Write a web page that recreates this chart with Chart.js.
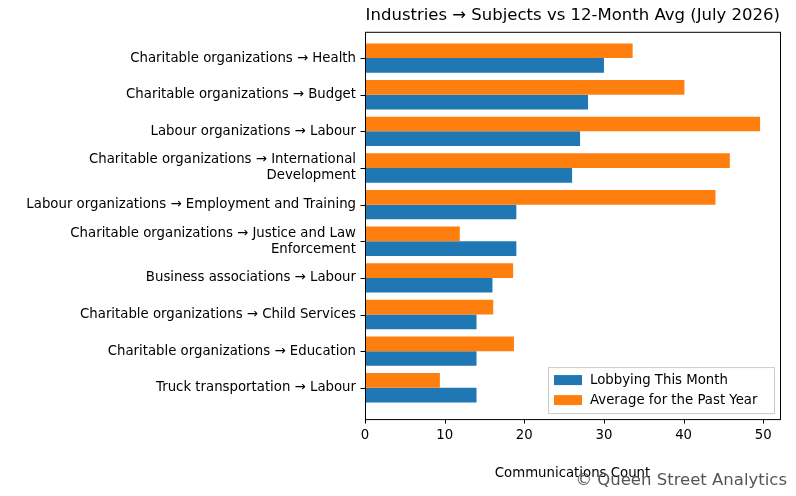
<!DOCTYPE html><html><head><script src="https://cdn.jsdelivr.net/npm/chart.js@4"></script>
<style>body{margin:0;background:#fff}#w{width:796px;height:496px}</style></head><body><div id="w"><canvas id="c"></canvas></div>
<script>
const categories=[["Charitable organizations → Health"],["Charitable organizations → Budget"],["Labour organizations → Labour"],["Charitable organizations → International","Development"],["Labour organizations → Employment and Training"],["Charitable organizations → Justice and Law","Enforcement"],["Business associations → Labour"],["Charitable organizations → Child Services"],["Charitable organizations → Education"],["Truck transportation → Labour"]];
const thisMonth=[30,28,27,26,19,19,16,14,14,14];
const pastYearAvg=[33.6,40.1,49.6,45.8,44.0,11.9,18.6,16.1,18.7,9.4];
const xTicks=[0,10,20,30,40,50];
const font={family:"DejaVu Sans",size:13.3};
const TOPX=8,BOTX=13;
const frame={id:'frame',afterDraw(ch){const a=ch.chartArea,x=ch.ctx,xs=ch.scales.x,ys=ch.scales.y;x.save();x.strokeStyle='#000';x.lineWidth=1;
const t=a.top-TOPX,b=a.bottom+BOTX;x.strokeRect(a.left+.5,t+.5,a.right-a.left,b-t);
x.beginPath();xTicks.forEach(v=>{const p=Math.round(xs.getPixelForValue(v))+.5;x.moveTo(p,b);x.lineTo(p,b+4.5);});
ys.ticks.forEach((tk,i)=>{const p=Math.round(ys.getPixelForTick(i))+.5;x.moveTo(a.left,p);x.lineTo(a.left-4.5,p);});x.stroke();
x.fillStyle='#555';x.font='16.5px "DejaVu Sans"';x.textAlign='right';x.textBaseline='bottom';x.fillText('© Queen Street Analytics',787,489);x.restore();}};
new Chart(document.getElementById('c'),{type:'bar',data:{labels:categories,datasets:[
{label:'Average for the Past Year',data:pastYearAvg,backgroundColor:'#ff7f0e',categoryPercentage:0.8,barPercentage:1},
{label:'Lobbying This Month',data:thisMonth,backgroundColor:'#1f77b4',categoryPercentage:0.8,barPercentage:1}]},
options:{indexAxis:'y',responsive:true,maintainAspectRatio:false,animation:false,
layout:{padding:{right:16,bottom:14,top:6}},
plugins:{title:{display:true,text:'Industries → Subjects vs 12-Month Avg (July 2026)',align:'end',color:'#000',font:{family:"DejaVu Sans",size:16.5,weight:'normal'},padding:{top:0,bottom:14}},
legend:{display:false},tooltip:{enabled:false}},
scales:{x:{min:0,max:52.1,grid:{display:false,drawTicks:false},border:{display:false},afterBuildTicks(s){s.ticks=xTicks.map(v=>({value:v}))},ticks:{color:'#000',font,padding:BOTX+8},title:{display:true,text:'Communications Count',color:'#000',font,padding:{top:2,bottom:0}}},
y:{grid:{display:false,drawTicks:false},border:{display:false},afterFit(s){s.width=365;},ticks:{color:'#000',font,padding:9}}}},
plugins:[frame,{id:'leg',afterDraw(ch){const a=ch.chartArea,x=ch.ctx;const w=226,h=46,l=a.right-w-6,t=a.bottom+BOTX-h-6;x.save();x.fillStyle='rgba(255,255,255,0.85)';x.strokeStyle='#ccc';x.fillRect(l,t,w,h);x.strokeRect(l+.5,t+.5,w,h);
[['#1f77b4','Lobbying This Month'],['#ff7f0e','Average for the Past Year']].forEach((d,i)=>{x.fillStyle=d[0];x.fillRect(l+6,t+8+i*20,28,10);x.fillStyle='#000';x.font='13.3px "DejaVu Sans"';x.textBaseline='middle';x.fillText(d[1],l+42,t+13+i*20);});x.restore();}}]});
</script></body></html>
